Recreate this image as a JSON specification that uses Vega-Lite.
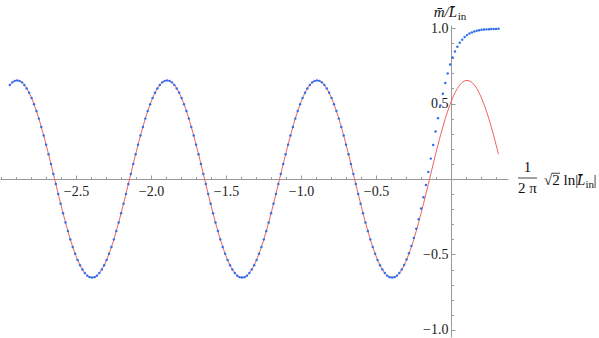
{
"$schema": "https://vega.github.io/schema/vega-lite/v6.json",
"width": 508, "height": 312,
"autosize": {"type": "none"},
"padding": {"left": 0, "top": 25, "right": 91, "bottom": 1},
"background": "white",
"config": {"view": {"stroke": null}, "axis": {"grid": false, "title": null, "labelFlush": false, "labelOverlap": false, "labelBound": false, "domainColor": "#999999", "tickColor": "#999999", "domainWidth": 1, "tickWidth": 1, "labelFont": "Liberation Serif", "labelFontSize": 14, "labelColor": "#222222"}},
"resolve": {"axis": {"x": "independent", "y": "independent"}},
"data": {"values": [
{"x":-2.9414,"r":0.623,"b":0.623},{"x":-2.9253,"r":0.640,"b":0.640},{"x":-2.9091,"r":0.650,"b":0.650},{"x":-2.8930,"r":0.653,"b":0.653},{"x":-2.8769,"r":0.650,"b":0.650},{"x":-2.8607,"r":0.640,"b":0.640},{"x":-2.8446,"r":0.623,"b":0.623},{"x":-2.8285,"r":0.600,"b":0.600},{"x":-2.8124,"r":0.571,"b":0.571},{"x":-2.7962,"r":0.536,"b":0.536},{"x":-2.7801,"r":0.495,"b":0.495},{"x":-2.7640,"r":0.450,"b":0.450},{"x":-2.7478,"r":0.400,"b":0.400},{"x":-2.7317,"r":0.345,"b":0.345},{"x":-2.7156,"r":0.288,"b":0.288},{"x":-2.6995,"r":0.227,"b":0.227},{"x":-2.6833,"r":0.164,"b":0.164},{"x":-2.6672,"r":0.099,"b":0.099},{"x":-2.6511,"r":0.033,"b":0.033},{"x":-2.6349,"r":-0.033,"b":-0.033},{"x":-2.6188,"r":-0.099,"b":-0.099},{"x":-2.6027,"r":-0.164,"b":-0.164},{"x":-2.5866,"r":-0.227,"b":-0.227},{"x":-2.5704,"r":-0.288,"b":-0.288},{"x":-2.5543,"r":-0.345,"b":-0.345},{"x":-2.5382,"r":-0.400,"b":-0.400},{"x":-2.5220,"r":-0.450,"b":-0.450},{"x":-2.5059,"r":-0.495,"b":-0.495},{"x":-2.4898,"r":-0.536,"b":-0.536},{"x":-2.4736,"r":-0.571,"b":-0.571},{"x":-2.4575,"r":-0.600,"b":-0.600},{"x":-2.4414,"r":-0.623,"b":-0.623},{"x":-2.4253,"r":-0.640,"b":-0.640},{"x":-2.4091,"r":-0.650,"b":-0.650},{"x":-2.3930,"r":-0.653,"b":-0.653},{"x":-2.3769,"r":-0.650,"b":-0.650},{"x":-2.3607,"r":-0.640,"b":-0.640},{"x":-2.3446,"r":-0.623,"b":-0.623},{"x":-2.3285,"r":-0.600,"b":-0.600},{"x":-2.3124,"r":-0.571,"b":-0.571},{"x":-2.2962,"r":-0.536,"b":-0.536},{"x":-2.2801,"r":-0.495,"b":-0.495},{"x":-2.2640,"r":-0.450,"b":-0.450},{"x":-2.2478,"r":-0.400,"b":-0.400},{"x":-2.2317,"r":-0.345,"b":-0.345},{"x":-2.2156,"r":-0.288,"b":-0.288},{"x":-2.1995,"r":-0.227,"b":-0.227},{"x":-2.1833,"r":-0.164,"b":-0.164},{"x":-2.1672,"r":-0.099,"b":-0.099},{"x":-2.1511,"r":-0.033,"b":-0.033},{"x":-2.1349,"r":0.033,"b":0.033},{"x":-2.1188,"r":0.099,"b":0.099},{"x":-2.1027,"r":0.164,"b":0.164},{"x":-2.0866,"r":0.227,"b":0.227},{"x":-2.0704,"r":0.288,"b":0.288},{"x":-2.0543,"r":0.345,"b":0.345},{"x":-2.0382,"r":0.400,"b":0.400},{"x":-2.0220,"r":0.450,"b":0.450},{"x":-2.0059,"r":0.495,"b":0.495},{"x":-1.9898,"r":0.536,"b":0.536},{"x":-1.9736,"r":0.571,"b":0.571},{"x":-1.9575,"r":0.600,"b":0.600},
{"x":-1.9414,"r":0.623,"b":0.623},{"x":-1.9253,"r":0.640,"b":0.640},{"x":-1.9091,"r":0.650,"b":0.650},{"x":-1.8930,"r":0.653,"b":0.653},{"x":-1.8769,"r":0.650,"b":0.650},{"x":-1.8607,"r":0.640,"b":0.640},{"x":-1.8446,"r":0.623,"b":0.623},{"x":-1.8285,"r":0.600,"b":0.600},{"x":-1.8124,"r":0.571,"b":0.571},{"x":-1.7962,"r":0.536,"b":0.536},{"x":-1.7801,"r":0.495,"b":0.495},{"x":-1.7640,"r":0.450,"b":0.450},{"x":-1.7478,"r":0.400,"b":0.400},{"x":-1.7317,"r":0.345,"b":0.345},{"x":-1.7156,"r":0.288,"b":0.288},{"x":-1.6995,"r":0.227,"b":0.227},{"x":-1.6833,"r":0.164,"b":0.164},{"x":-1.6672,"r":0.099,"b":0.099},{"x":-1.6511,"r":0.033,"b":0.033},{"x":-1.6349,"r":-0.033,"b":-0.033},{"x":-1.6188,"r":-0.099,"b":-0.099},{"x":-1.6027,"r":-0.164,"b":-0.164},{"x":-1.5866,"r":-0.227,"b":-0.227},{"x":-1.5704,"r":-0.288,"b":-0.288},{"x":-1.5543,"r":-0.345,"b":-0.345},{"x":-1.5382,"r":-0.400,"b":-0.400},{"x":-1.5220,"r":-0.450,"b":-0.450},{"x":-1.5059,"r":-0.495,"b":-0.495},{"x":-1.4898,"r":-0.536,"b":-0.536},{"x":-1.4736,"r":-0.571,"b":-0.571},{"x":-1.4575,"r":-0.600,"b":-0.600},{"x":-1.4414,"r":-0.623,"b":-0.623},{"x":-1.4253,"r":-0.640,"b":-0.640},{"x":-1.4091,"r":-0.650,"b":-0.650},{"x":-1.3930,"r":-0.653,"b":-0.653},{"x":-1.3769,"r":-0.650,"b":-0.650},{"x":-1.3607,"r":-0.640,"b":-0.640},{"x":-1.3446,"r":-0.623,"b":-0.623},{"x":-1.3285,"r":-0.600,"b":-0.600},{"x":-1.3124,"r":-0.571,"b":-0.571},{"x":-1.2962,"r":-0.536,"b":-0.536},{"x":-1.2801,"r":-0.495,"b":-0.495},{"x":-1.2640,"r":-0.450,"b":-0.450},{"x":-1.2478,"r":-0.400,"b":-0.400},{"x":-1.2317,"r":-0.345,"b":-0.345},{"x":-1.2156,"r":-0.288,"b":-0.288},{"x":-1.1995,"r":-0.227,"b":-0.227},{"x":-1.1833,"r":-0.164,"b":-0.164},{"x":-1.1672,"r":-0.099,"b":-0.099},{"x":-1.1511,"r":-0.033,"b":-0.033},{"x":-1.1349,"r":0.033,"b":0.033},{"x":-1.1188,"r":0.099,"b":0.099},{"x":-1.1027,"r":0.164,"b":0.164},{"x":-1.0866,"r":0.227,"b":0.227},{"x":-1.0704,"r":0.288,"b":0.288},{"x":-1.0543,"r":0.345,"b":0.345},{"x":-1.0382,"r":0.400,"b":0.400},{"x":-1.0220,"r":0.450,"b":0.450},{"x":-1.0059,"r":0.495,"b":0.495},{"x":-0.9898,"r":0.536,"b":0.536},{"x":-0.9736,"r":0.571,"b":0.571},{"x":-0.9575,"r":0.600,"b":0.600},
{"x":-0.9414,"r":0.623,"b":0.623},{"x":-0.9253,"r":0.640,"b":0.640},{"x":-0.9091,"r":0.650,"b":0.650},{"x":-0.8930,"r":0.653,"b":0.653},{"x":-0.8769,"r":0.650,"b":0.650},{"x":-0.8607,"r":0.640,"b":0.640},{"x":-0.8446,"r":0.623,"b":0.623},{"x":-0.8285,"r":0.600,"b":0.600},{"x":-0.8124,"r":0.571,"b":0.571},{"x":-0.7962,"r":0.536,"b":0.536},{"x":-0.7801,"r":0.495,"b":0.495},{"x":-0.7640,"r":0.450,"b":0.450},{"x":-0.7478,"r":0.400,"b":0.400},{"x":-0.7317,"r":0.345,"b":0.345},{"x":-0.7156,"r":0.288,"b":0.288},{"x":-0.6995,"r":0.227,"b":0.227},{"x":-0.6833,"r":0.164,"b":0.164},{"x":-0.6672,"r":0.099,"b":0.099},{"x":-0.6511,"r":0.033,"b":0.033},{"x":-0.6349,"r":-0.033,"b":-0.033},{"x":-0.6188,"r":-0.099,"b":-0.099},{"x":-0.6027,"r":-0.164,"b":-0.164},{"x":-0.5866,"r":-0.227,"b":-0.227},{"x":-0.5704,"r":-0.288,"b":-0.288},{"x":-0.5543,"r":-0.345,"b":-0.345},{"x":-0.5382,"r":-0.400,"b":-0.400},{"x":-0.5220,"r":-0.450,"b":-0.450},{"x":-0.5059,"r":-0.495,"b":-0.495},{"x":-0.4898,"r":-0.536,"b":-0.536},{"x":-0.4736,"r":-0.571,"b":-0.571},{"x":-0.4575,"r":-0.600,"b":-0.600},{"x":-0.4414,"r":-0.623,"b":-0.623},{"x":-0.4253,"r":-0.640,"b":-0.640},{"x":-0.4091,"r":-0.650,"b":-0.650},{"x":-0.3930,"r":-0.653,"b":-0.653},{"x":-0.3769,"r":-0.650,"b":-0.650},{"x":-0.3607,"r":-0.640,"b":-0.640},{"x":-0.3446,"r":-0.623,"b":-0.623},{"x":-0.3285,"r":-0.600,"b":-0.600},{"x":-0.3124,"r":-0.571,"b":-0.569},{"x":-0.2962,"r":-0.536,"b":-0.533},{"x":-0.2801,"r":-0.495,"b":-0.491},{"x":-0.2640,"r":-0.450,"b":-0.443},{"x":-0.2478,"r":-0.400,"b":-0.390},{"x":-0.2317,"r":-0.345,"b":-0.330},{"x":-0.2156,"r":-0.288,"b":-0.266},{"x":-0.1995,"r":-0.227,"b":-0.196},{"x":-0.1833,"r":-0.164,"b":-0.121},{"x":-0.1672,"r":-0.099,"b":-0.040},{"x":-0.1511,"r":-0.033,"b":0.046},{"x":-0.1349,"r":0.033,"b":0.135},{"x":-0.1188,"r":0.099,"b":0.225},{"x":-0.1027,"r":0.164,"b":0.315},{"x":-0.0866,"r":0.227,"b":0.403},{"x":-0.0704,"r":0.288,"b":0.487},{"x":-0.0543,"r":0.345,"b":0.565},{"x":-0.0382,"r":0.400,"b":0.636},{"x":-0.0220,"r":0.450,"b":0.699},{"x":-0.0059,"r":0.495,"b":0.758},{"x":0.0102,"r":0.536,"b":0.805},{"x":0.0264,"r":0.571,"b":0.844},{"x":0.0425,"r":0.600,"b":0.876},
{"x":0.0586,"r":0.623,"b":0.902},{"x":0.0747,"r":0.640,"b":0.923},{"x":0.0909,"r":0.650,"b":0.940},{"x":0.1070,"r":0.653,"b":0.953},{"x":0.1231,"r":0.650,"b":0.963},{"x":0.1393,"r":0.640,"b":0.971},{"x":0.1554,"r":0.623,"b":0.977},{"x":0.1715,"r":0.600,"b":0.982},{"x":0.1876,"r":0.571,"b":0.985},{"x":0.2038,"r":0.536,"b":0.988},{"x":0.2199,"r":0.495,"b":0.990},{"x":0.2360,"r":0.450,"b":0.991},{"x":0.2522,"r":0.400,"b":0.992},{"x":0.2683,"r":0.345,"b":0.993},{"x":0.2844,"r":0.288,"b":0.994},{"x":0.3005,"r":0.227,"b":0.994},{"x":0.3167,"r":0.164,"b":0.995}
]},
"layer": [
{"mark": {"type": "line", "color": "#f06262", "strokeWidth": 1},
 "encoding": {
  "x": {"field": "x", "type": "quantitative", "scale": {"domain": [-3.007, 0.38], "nice": false, "zero": false},
   "axis": {"orient": "bottom", "offset": -158, "values": [-2.5,-2.0,-1.5,-1.0,-0.5], "format": ".1f", "tickSize": -4, "labelPadding": 9, "labelFont": "Liberation Serif", "labelFontSize": 14}},
  "y": {"field": "r", "type": "quantitative", "scale": {"domain": [-1.0464, 1.0199], "nice": false, "zero": false},
   "axis": {"orient": "left", "offset": -451, "values": [-1.0,-0.5,0.5,1.0], "format": ".1f", "tickSize": -4, "labelPadding": 7, "labelFont": "Liberation Serif", "labelFontSize": 14}}
 }},
{"mark": {"type": "point", "shape": "circle", "filled": true, "size": 6, "color": "#2e6ef0", "opacity": 1},
 "encoding": {
  "x": {"field": "x", "type": "quantitative", "axis": {"orient": "bottom", "offset": -158, "labels": false, "domain": false, "tickSize": -2.5, "values": [-3.0,-2.9,-2.8,-2.7,-2.6,-2.4,-2.3,-2.2,-2.1,-1.9,-1.8,-1.7,-1.6,-1.4,-1.3,-1.2,-1.1,-0.9,-0.8,-0.7,-0.6,-0.4,-0.3,-0.2,-0.1,0.1,0.2,0.3]}},
  "y": {"field": "b", "type": "quantitative", "axis": {"orient": "left", "offset": -451, "labels": false, "domain": false, "tickSize": -2.5, "values": [-0.9,-0.8,-0.7,-0.6,-0.4,-0.3,-0.2,-0.1,0.1,0.2,0.3,0.4,0.6,0.7,0.8,0.9]}}}},
{"data": {"values": [{}]}, "mark": {"type": "text", "text": "m\u0304/L\u0304", "font": "Liberation Serif", "fontStyle": "italic", "fontSize": 15, "align": "left", "baseline": "alphabetic", "color": "#111111"},
 "encoding": {"x": {"datum": -0.115, "type": "quantitative", "axis": null}, "y": {"datum": 1.0728, "type": "quantitative", "axis": null}}},
{"data": {"values": [{}]}, "mark": {"type": "text", "text": "in", "font": "Liberation Serif", "fontSize": 11, "align": "left", "baseline": "alphabetic", "color": "#111111"},
 "encoding": {"x": {"datum": 0.045, "type": "quantitative", "axis": null}, "y": {"datum": 1.053, "type": "quantitative", "axis": null}}},
{"data": {"values": [{}]}, "mark": {"type": "text", "text": "1", "font": "Liberation Serif", "fontSize": 15, "align": "center", "baseline": "alphabetic", "color": "#111111"},
 "encoding": {"x": {"datum": 0.51, "type": "quantitative", "axis": null}, "y": {"datum": 0.046, "type": "quantitative", "axis": null}}},
{"data": {"values": [{}]}, "mark": {"type": "rule", "color": "#111111", "strokeWidth": 0.8},
 "encoding": {"x": {"datum": 0.447, "type": "quantitative", "axis": null}, "x2": {"datum": 0.573}, "y": {"datum": 0.0066, "type": "quantitative", "axis": null}}},
{"data": {"values": [{}]}, "mark": {"type": "text", "text": "2 π", "font": "Liberation Serif", "fontSize": 15, "align": "center", "baseline": "alphabetic", "color": "#111111"},
 "encoding": {"x": {"datum": 0.51, "type": "quantitative", "axis": null}, "y": {"datum": -0.092, "type": "quantitative", "axis": null}}},
{"data": {"values": [{}]}, "mark": {"type": "text", "text": "√2 ln|", "font": "Liberation Serif", "fontSize": 15, "align": "left", "baseline": "alphabetic", "color": "#111111"},
 "encoding": {"x": {"datum": 0.62, "type": "quantitative", "axis": null}, "y": {"datum": -0.04, "type": "quantitative", "axis": null}}},
{"data": {"values": [{}]}, "mark": {"type": "rule", "color": "#111111", "strokeWidth": 0.8},
 "encoding": {"x": {"datum": 0.672, "type": "quantitative", "axis": null}, "x2": {"datum": 0.727}, "y": {"datum": 0.038, "type": "quantitative", "axis": null}}},
{"data": {"values": [{}]}, "mark": {"type": "text", "text": "L\u0304", "font": "Liberation Serif", "fontStyle": "italic", "fontSize": 15, "align": "left", "baseline": "alphabetic", "color": "#111111"},
 "encoding": {"x": {"datum": 0.84, "type": "quantitative", "axis": null}, "y": {"datum": -0.04, "type": "quantitative", "axis": null}}},
{"data": {"values": [{}]}, "mark": {"type": "text", "text": "in", "font": "Liberation Serif", "fontSize": 11, "align": "left", "baseline": "alphabetic", "color": "#111111"},
 "encoding": {"x": {"datum": 0.897, "type": "quantitative", "axis": null}, "y": {"datum": -0.06, "type": "quantitative", "axis": null}}},
{"data": {"values": [{}]}, "mark": {"type": "text", "text": "|", "font": "Liberation Serif", "fontSize": 15, "align": "left", "baseline": "alphabetic", "color": "#111111"},
 "encoding": {"x": {"datum": 0.95, "type": "quantitative", "axis": null}, "y": {"datum": -0.04, "type": "quantitative", "axis": null}}}
]
}
